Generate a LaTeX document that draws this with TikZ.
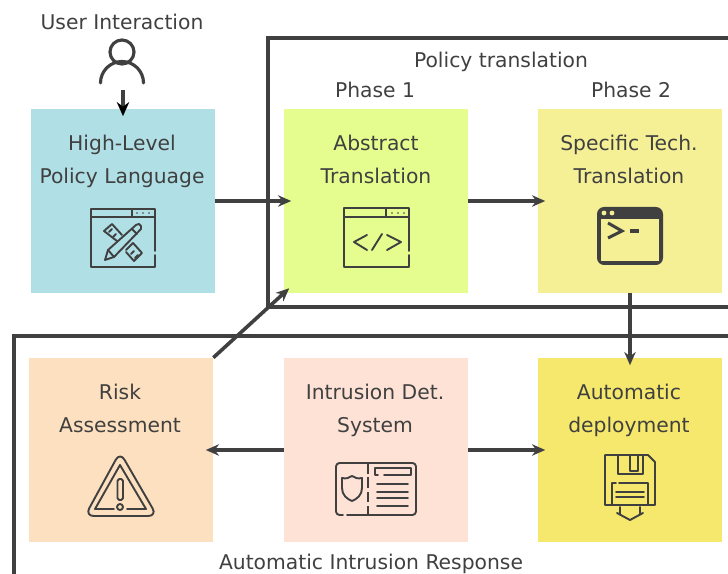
\documentclass[tikz,border=0pt]{standalone}
\usepackage{fontspec}
\setmainfont{DejaVu Sans}
\usetikzlibrary{arrows.meta,positioning}
\definecolor{inkgray}{HTML}{404040}
\definecolor{highblue}{HTML}{B0E0E6}
\definecolor{abstractgreen}{HTML}{E5FD8E}
\definecolor{specificyellow}{HTML}{F5F096}
\definecolor{riskorange}{HTML}{FCE0BF}
\definecolor{idspink}{HTML}{FEE2D6}
\definecolor{deploygold}{HTML}{F5E86C}
\tikzset{
  phasebox/.style={minimum width=184*0.02cm,minimum height=184*0.02cm,inner sep=0pt},
  boxtext/.style={text=inkgray,align=center,inner sep=0pt,font=\fontsize{11.55}{18.8}\selectfont},
  frameline/.style={draw=inkgray,line width=2.45pt,line join=miter},
  flow/.style={draw=inkgray,line width=2.05pt,-{Stealth[length=7.5pt,width=6.5pt]},shorten >=-4.3pt},
  icon/.style={draw=inkgray,line width=1.08pt,line cap=round,line join=round}
}
\begin{document}
\begin{tikzpicture}[x=0.02cm,y=-0.02cm]
\useasboundingbox (0,0) rectangle (728,574);

% Frames
\draw[frameline] (728,38) -- (268,38) -- (268,307) -- (728,307);
\draw[frameline] (728,336) -- (14,336) -- (14,574);

% Boxes
\node[phasebox,fill=highblue] (policy) at (123,201) {};
\node[phasebox,fill=abstractgreen] (abstract) at (376,201) {};
\node[phasebox,fill=specificyellow] (specific) at (630,201) {};
\node[phasebox,fill=riskorange] (risk) at (121,450) {};
\node[phasebox,fill=idspink] (ids) at (376,450) {};
\node[phasebox,fill=deploygold] (deploy) at (630,450) {};

% Labels
\node[boxtext] (userlabel) at (122,22) {User Interaction};
\node[boxtext] (translationlabel) at (501,61.5) {Policy translation};
\node[boxtext] (phaseone) at (375,90) {Phase 1};
\node[boxtext] (phasetwo) at (631,90) {Phase 2};
\node[boxtext] (responselabel) at (371,563.5) {Automatic Intrusion Response};
\node[boxtext] (policytext) at (122,161.5) {High-Level\\Policy Language};
\node[boxtext] (abstracttext) at (376,159) {Abstract\\Translation};
\node[boxtext] (specifictext) at (629,159.5) {Specific Tech.\\Translation};
\node[boxtext] (risktext) at (120,408.5) {Risk\\Assessment};
\node[boxtext] (idstext) at (375,410.5) {Intrusion Det.\\System};
\node[boxtext] (deploytext) at (629,410.5) {Automatic\\deployment};

% User
\draw[icon,line width=1.8pt] (122,52) circle (12);
\draw[icon,line width=1.8pt] (100.5,83) arc (180:360:21.5);
\coordinate (userfoot) at (123,90);

% Arrows
\draw[flow,-{Stealth[length=8pt,width=7pt,black]}] (userfoot) -- (policy.north);
\draw[flow] (policy.east) -- (abstract.west);
\draw[flow] (abstract.east) -- (specific.west);
\draw[flow] (specific.south) -- (deploy.north);
\draw[flow] (ids.west) -- (risk.east);
\draw[flow] (ids.east) -- (deploy.west);
\draw[flow] (risk.north east) -- (abstract.south west);

% Window with pencil and ruler
\draw[icon] (155,251) -- (155,209) -- (91,209) -- (91,267) -- (155,267) -- (155,255);
\draw[icon] (91,217) -- (155,217) (132,209) -- (132,217);
\foreach \x in {137,143,149} {
    \fill[inkgray] (\x,213) circle (0.9);
}
\draw[icon] (105,260) -- (108,250) -- (136,225) -- (139,224) -- (141,226) -- (141,229) -- (114,257) -- cycle;
\draw[icon] (108,250) -- (114,257) (132,229) -- (137,234);
\draw[icon] (117,241) -- (104,231) -- (112,224) -- (122,235);
\draw[icon] (112,229) -- (109,232) (116,234) -- (113,237);
\draw[icon] (126,250) -- (133,243) -- (142,253) -- (134,261) -- (126,252);
\draw[icon] (131,254) -- (134,251) (135,258) -- (138,255);

% Window with code
\draw[icon] (409,251) -- (409,208) -- (344,208) -- (344,267) -- (409,267) -- (409,255);
\draw[icon] (344,217) -- (409,217) (386,208) -- (386,217);
\foreach \x in {392,398,404} {
    \fill[inkgray] (\x,213) circle (0.9);
}
\draw[icon] (367,235) -- (354,242) -- (367,250);
\draw[icon] (382,234) -- (372,250);
\draw[icon] (387,235) -- (401,242) -- (387,250);

% Terminal
\fill[inkgray,rounded corners=4] (597,207) rectangle (663,265);
\fill[specificyellow] (601,219) rectangle (659,261);
\fill[specificyellow] (604,213) circle (2.4) (612,213) circle (2.4);
\draw[icon,line width=1.7pt,line cap=butt,line join=miter] (608,223) -- (622,231) -- (608,238);
\draw[icon,line width=2.3pt,line cap=butt] (630,231) -- (639,231);

% Warning sign
\draw[icon,rounded corners=5] (120,452) -- (157,516) -- (85,516) -- cycle;
\draw[icon] (114,509) -- (95,509) -- (120,465) -- (146,509) -- (127,509);
\draw[icon,rounded corners=1] (117.5,479) rectangle (123,500);
\draw[icon] (120,507) circle (3);

% Card with shield
\draw[icon,rounded corners=2] (343,515) -- (336,515) -- (336,463) -- (416,463) -- (416,515) -- (347,515);
\draw[icon,dash pattern=on 6pt off 2.2pt,line cap=butt] (368,463) -- (368,515);
\draw[icon] (342,478) .. controls (346,479) and (349,478) .. (352,476) .. controls (355,478) and (358,479) .. (362,478) -- (362,488) .. controls (362,495) and (357,499) .. (352,501) .. controls (347,499) and (342,495) .. (342,488) -- cycle;
\draw[icon] (378,475) -- (375,475) -- (375,468) -- (411,468) -- (411,475) -- (384,475);
\foreach \y in {484,492,498,506} {
    \draw[icon] (377,\y) -- (408,\y);
}

% Floppy disk
\draw[icon] (605,455) -- (648,455) -- (655,462) -- (655,505) -- (605,505) -- cycle;
\draw[icon] (618,455) -- (618,474) -- (643,474) -- (643,455);
\draw[icon] (630,455) -- (630,471) -- (638,471) -- (638,455);
\draw[icon] (612,505) -- (612,483) -- (616,483) (619,483) -- (648,483) -- (648,505);
\draw[icon] (616,492) -- (644,492) (616,497) -- (644,497);
\draw[icon] (620,507) -- (620,514) (640,507) -- (640,514);
\draw[icon] (617,513) -- (630,520) -- (643,513);
\end{tikzpicture}
\end{document}
